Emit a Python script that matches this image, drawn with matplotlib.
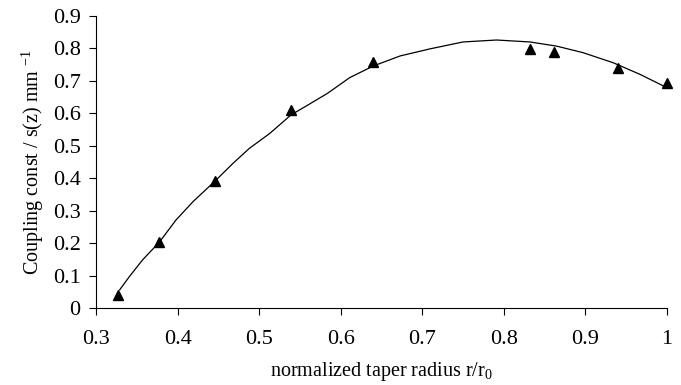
import matplotlib
matplotlib.use("Agg")
import matplotlib.pyplot as plt

plt.rcParams['font.family'] = ['Liberation Serif', 'DejaVu Serif']
plt.rcParams['mathtext.fontset'] = 'custom'
plt.rcParams['mathtext.rm'] = 'Liberation Serif'

# measured points (triangles)
r_meas = [0.327, 0.377, 0.446, 0.539, 0.639, 0.832, 0.861, 0.940, 1.0]
s_meas = [0.040, 0.202, 0.391, 0.610, 0.759, 0.797, 0.788, 0.741, 0.694]

# fitted curve
r_fit = [0.329, 0.341, 0.357, 0.378, 0.398, 0.419, 0.445, 0.468, 0.488,
         0.513, 0.539, 0.558, 0.584, 0.611, 0.640, 0.673, 0.710, 0.750,
         0.791, 0.832, 0.865, 0.897, 0.934, 0.967, 1.0]
s_fit = [0.056, 0.097, 0.148, 0.204, 0.271, 0.328, 0.389, 0.446, 0.492,
         0.538, 0.595, 0.623, 0.662, 0.710, 0.746, 0.777, 0.799, 0.820,
         0.826, 0.820, 0.807, 0.787, 0.756, 0.720, 0.679]

fig = plt.figure(figsize=(6.81, 3.85), dpi=100)
ax = fig.add_axes([96/681, 1-308/385, (667-96)/681, (308-16)/385])

ax.plot(r_fit, s_fit, color='black', lw=0.9)
ax.plot(r_meas, s_meas, '^', color='black', ms=7, clip_on=False)

ax.set_xlim(0.3, 1.0)
ax.set_ylim(0, 0.9)
ax.set_xticks([0.3, 0.4, 0.5, 0.6, 0.7, 0.8, 0.9, 1.0])
ax.set_xticklabels(['0.3', '0.4', '0.5', '0.6', '0.7', '0.8', '0.9', '1'])
ax.set_yticks([0, 0.1, 0.2, 0.3, 0.4, 0.5, 0.6, 0.7, 0.8, 0.9])
ax.set_yticklabels(['0', '0.1', '0.2', '0.3', '0.4', '0.5', '0.6', '0.7', '0.8', '0.9'])
ax.spines['top'].set_visible(False)
ax.spines['right'].set_visible(False)
ax.tick_params(direction='out', length=5, width=0.8, labelsize=16)
ax.tick_params(axis='x', pad=11)
ax.tick_params(axis='y', pad=6)

ax.set_xlabel('normalized taper radius r/r$_0$', fontsize=14.5, labelpad=8)
ax.set_ylabel('Coupling const / s(z) mm $^{-1}$', fontsize=14.5, labelpad=5)

fig.savefig('out.png', dpi=100)
